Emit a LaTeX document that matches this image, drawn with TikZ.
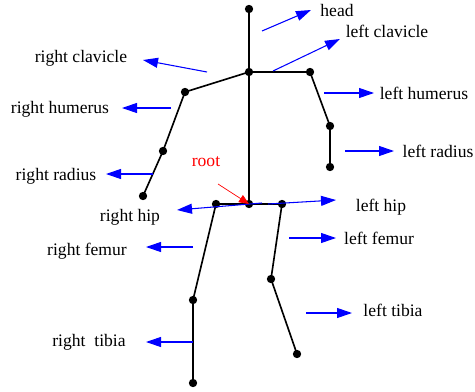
\documentclass[tikz,border=0pt]{standalone}
\usepackage{fontspec}
\setmainfont{Liberation Serif}
\usetikzlibrary{arrows.meta}

\begin{document}
\begin{tikzpicture}[x=0.03cm,y=-0.03cm,
    bone/.style={line width=1.4pt},
    joint/.style={circle,fill=black,inner sep=0pt,minimum size=0.25cm},
    pointer/.style={blue,line width=0.9pt,-{Triangle[length=0.45cm,width=0.3cm]}},
    lbl/.style={font=\fontsize{15}{18}\selectfont,inner sep=0pt}]
  \useasboundingbox (0,0) rectangle (475,392);
  % joints
  \coordinate (headtop) at (249,9);
  \coordinate (thorax) at (249,72);
  \coordinate (lsh) at (310,72);
  \coordinate (lelb) at (330,126);
  \coordinate (lwr) at (330,167);
  \coordinate (rsh) at (185,92);
  \coordinate (relb) at (163,151);
  \coordinate (rwr) at (143,196);
  \coordinate (root) at (249,204);
  \coordinate (rhip) at (216,204);
  \coordinate (lhip) at (282,204);
  \coordinate (lknee) at (271,279);
  \coordinate (lank) at (297,354);
  \coordinate (rknee) at (193,300);
  \coordinate (rank) at (193,383);
  % skeleton
  \draw[bone] (headtop) -- (thorax) -- (root);
  \draw[bone] (rwr) -- (relb) -- (rsh) -- (thorax) -- (lsh) -- (lelb) -- (lwr);
  \draw[bone] (rhip) -- (lhip);
  \draw[bone] (rhip) -- (rknee) -- (rank);
  \draw[bone] (lhip) -- (lknee) -- (lank);
  \foreach \j in {headtop,thorax,lsh,lelb,lwr,rsh,relb,rwr,root,rhip,lhip,lknee,lank,rknee,rank}
    \node[joint] at (\j) {};
  % labels
  \node[lbl] (head) at (337,10) {head};
  \node[lbl] (lclav) at (387,31) {left clavicle};
  \node[lbl] (lhum) at (424,93) {left humerus};
  \node[lbl] (lrad) at (438,151) {left radius};
  \node[lbl] (rclav) at (81,58) {right clavicle};
  \node[lbl] (rhum) at (60,109) {right humerus};
  \node[lbl] (rrad) at (56,176) {right radius};
  \node[lbl] (rhiplbl) at (130,217) {right hip};
  \node[lbl] (lhiplbl) at (381,207) {left hip};
  \node[lbl] (rfem) at (87,251) {right femur};
  \node[lbl] (lfem) at (379,238) {left femur};
  \node[lbl] (ltib) at (393,310) {left tibia};
  \node[lbl] (rtib) at (89,342) {right\ \ tibia};
  \node[lbl,red] (rootlbl) at (206,162) {root};
  % pointer ends
  \coordinate (a1) at (262,31);  \coordinate (b1) at (311,10);
  \coordinate (a2) at (273,71);  \coordinate (b2) at (340,39);
  \coordinate (a3) at (324,93);  \coordinate (b3) at (374,93);
  \coordinate (a4) at (345,151); \coordinate (b4) at (394,151);
  \coordinate (a5) at (207,72);  \coordinate (b5) at (143,60);
  \coordinate (a6) at (171,108); \coordinate (b6) at (122,108);
  \coordinate (a7) at (153,174); \coordinate (b7) at (106,174);
  \coordinate (a8) at (262,203); \coordinate (b8) at (177,210);
  \coordinate (a9) at (268,204); \coordinate (b9) at (336,200);
  \coordinate (a10) at (289,238); \coordinate (b10) at (336,238);
  \coordinate (a11) at (306,313); \coordinate (b11) at (352,313);
  \coordinate (a12) at (193,247); \coordinate (b12) at (146,247);
  \coordinate (a13) at (193,342); \coordinate (b13) at (146,342);
  \foreach \i in {1,...,13}
    \draw[pointer] (a\i) -- (b\i);
  \coordinate (r0) at (218,184);
  \draw[red,line width=0.6pt,-{Triangle[length=0.3cm,width=0.25cm]}] (r0) -- (root);
\end{tikzpicture}
\end{document}
